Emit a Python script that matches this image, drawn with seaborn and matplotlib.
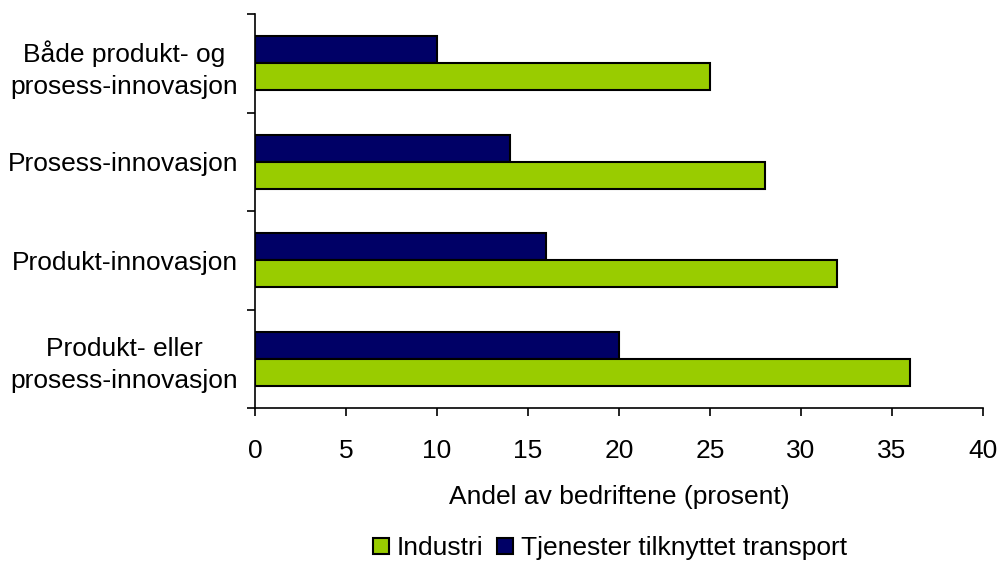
import numpy as np
import pandas as pd
import seaborn as sns
import matplotlib.pyplot as plt
from matplotlib.patches import Patch
from matplotlib.ticker import FixedLocator

# Data (top to bottom)
kategorier = ['Både produkt- og\nprosess-innovasjon', 'Prosess-innovasjon',
              'Produkt-innovasjon', 'Produkt- eller\nprosess-innovasjon']
industri = [25, 28, 32, 36]
tjenester = [10, 14, 16, 20]
serier = ['Industri', 'Tjenester tilknyttet transport']
x_ticks = [0, 5, 10, 15, 20, 25, 30, 35, 40]

df = pd.DataFrame({
    'kategori': kategorier * 2,
    'verdi': tjenester + industri,
    'serie': [serier[1]] * 4 + [serier[0]] * 4,
})

sns.set_theme(style="white")
plt.rcParams['font.family'] = ['Liberation Sans', 'DejaVu Sans']
plt.rcParams['text.color'] = 'black'

farger = {serier[0]: '#99CC00', serier[1]: '#000066'}

fig = plt.figure(figsize=(10, 5.66), dpi=100)
ax = fig.add_axes([0.255, 0.279, 0.728, 0.696])

sns.barplot(data=df, y='kategori', x='verdi', hue='serie',
            hue_order=[serier[1], serier[0]], palette=farger, saturation=1,
            orient='h', width=0.55, edgecolor='black', linewidth=1.5,
            legend=False, ax=ax)

ax.set_xlim(0, 40)
ax.set_ylim(3.5, -0.5)
ax.set_xticks(x_ticks)
ax.set_xticklabels([str(t) for t in x_ticks], fontsize=19, color='black')
ax.set_yticklabels(kategorier, fontsize=19, color='black', linespacing=1.4,
                   multialignment='center')
ax.tick_params(axis='y', which='major', length=0, pad=12)
ax.yaxis.set_minor_locator(FixedLocator([-0.5, 0.5, 1.5, 2.5, 3.5]))
ax.tick_params(axis='y', which='minor', left=True, length=6, width=1.2, color='black')
ax.tick_params(axis='x', which='major', bottom=True, length=6, width=1.2,
               color='black', pad=16)

for s in ['top', 'right']:
    ax.spines[s].set_visible(False)
for s in ['left', 'bottom']:
    ax.spines[s].set_color('black')
    ax.spines[s].set_linewidth(1.2)

ax.set_xlabel('Andel av bedriftene (prosent)', fontsize=19, color='black', labelpad=16)
ax.set_ylabel('')

handles = [Patch(facecolor=farger[s], edgecolor='black', linewidth=1.5) for s in serier]
fig.legend(handles, serier, loc='lower center', bbox_to_anchor=(0.61, -0.032),
           ncol=2, frameon=False, fontsize=19, handlelength=0.6, handleheight=0.6,
           handletextpad=0.3, columnspacing=0.5, labelcolor='black')

plt.savefig('out.png', dpi=100)
